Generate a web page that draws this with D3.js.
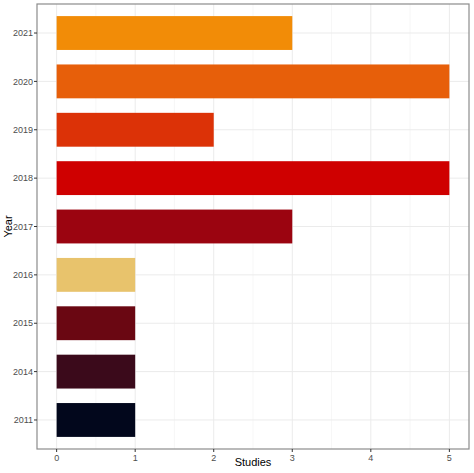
<!DOCTYPE html>
<html><head><meta charset="utf-8">
<script src="https://cdn.jsdelivr.net/npm/d3@7"></script>
<style>body{margin:0;background:#fff}svg{display:block}</style>
</head><body>
<svg id="c" width="474" height="473"></svg>
<script>
const years = ["2011","2014","2015","2016","2017","2018","2019","2020","2021"];
const studies = [1,1,1,1,3,5,2,5,3];
const colors = ["#02071c","#3b0a1b","#6a0712","#e8c36c","#9b0410","#cf0000","#dc3207","#e75f0a","#f28c07"];
const xTicks = [0,1,2,3,4,5];

const svg = d3.select("#c");
const L = 37, R = 469, T = 4, B = 449;
const x = d3.scaleLinear().domain([-0.25, 5.25]).range([L, R]);
const yc = d3.scaleLinear().domain([0.4, years.length + 0.6]).range([B, T]);
const barH = (yc(0) - yc(0.7));

// grid minor
const minor = [0.5,1.5,2.5,3.5,4.5];
svg.append("g").selectAll("line").data(minor).join("line")
  .attr("x1", d => x(d)).attr("x2", d => x(d)).attr("y1", T).attr("y2", B)
  .attr("stroke", "#f2f2f2").attr("stroke-width", 0.6);
svg.append("g").selectAll("line").data(xTicks).join("line")
  .attr("x1", d => x(d)).attr("x2", d => x(d)).attr("y1", T).attr("y2", B)
  .attr("stroke", "#ebebeb").attr("stroke-width", 1);
svg.append("g").selectAll("line").data(years).join("line")
  .attr("x1", L).attr("x2", R).attr("y1", (d,i) => yc(i+1)).attr("y2", (d,i) => yc(i+1))
  .attr("stroke", "#ebebeb").attr("stroke-width", 1);

// bars
svg.append("g").selectAll("rect").data(years).join("rect")
  .attr("x", x(0))
  .attr("width", (d,i) => x(studies[i]) - x(0))
  .attr("y", (d,i) => yc(i+1) - barH/2)
  .attr("height", barH)
  .attr("fill", (d,i) => colors[i]);

// panel border
svg.append("rect").attr("x", L).attr("y", T).attr("width", R-L).attr("height", B-T)
  .attr("fill", "none").attr("stroke", "#8c8c8c").attr("stroke-width", 1.2);

// x axis
const xa = svg.append("g");
xa.selectAll("line").data(xTicks).join("line")
  .attr("x1", d => x(d)).attr("x2", d => x(d)).attr("y1", B).attr("y2", B+3)
  .attr("stroke", "#333").attr("stroke-width", 1);
xa.selectAll("text").data(xTicks).join("text")
  .attr("x", d => x(d)).attr("y", B+12)
  .attr("text-anchor", "middle").attr("font-family", "Arial, Liberation Sans, sans-serif")
  .attr("font-size", 9).attr("fill", "#4d4d4d").text(d => d);

// y axis
const ya = svg.append("g");
ya.selectAll("line").data(years).join("line")
  .attr("x1", L-3).attr("x2", L).attr("y1", (d,i) => yc(i+1)).attr("y2", (d,i) => yc(i+1))
  .attr("stroke", "#333").attr("stroke-width", 1);
ya.selectAll("text").data(years).join("text")
  .attr("x", L-4).attr("y", (d,i) => yc(i+1)).attr("dy", "0.35em")
  .attr("text-anchor", "end").attr("font-family", "Arial, Liberation Sans, sans-serif")
  .attr("font-size", 9).attr("fill", "#4d4d4d").text(d => d);

// titles
svg.append("text").attr("x", (L+R)/2).attr("y", 466).attr("text-anchor", "middle")
  .attr("font-family", "Arial, Liberation Sans, sans-serif").attr("font-size", 11)
  .attr("fill", "#000").text("Studies");
svg.append("text").attr("transform", `translate(12,${(T+B)/2}) rotate(-90)`)
  .attr("text-anchor", "middle")
  .attr("font-family", "Arial, Liberation Sans, sans-serif").attr("font-size", 11)
  .attr("fill", "#000").text("Year");
</script>
</body></html>
